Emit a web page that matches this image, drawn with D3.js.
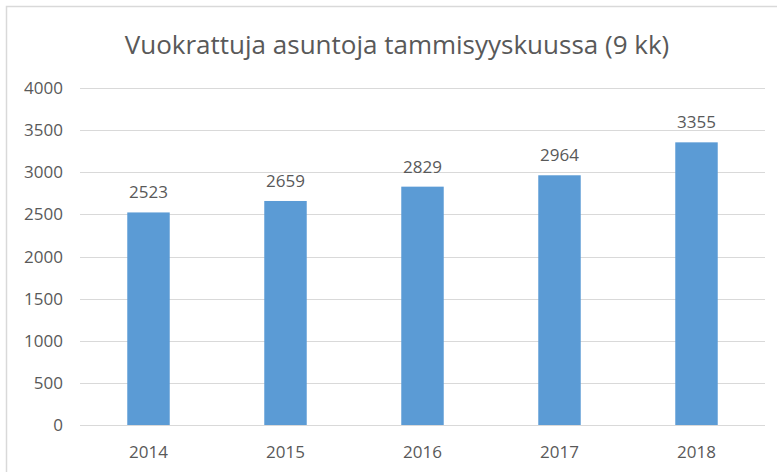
<!DOCTYPE html>
<html>
<head>
<meta charset="utf-8">
<script src="https://cdn.jsdelivr.net/npm/d3@7"></script>
<style>
  body { margin: 0; background: #fff; }
  text { font-family: "Open Sans", sans-serif; fill: #595959; }
</style>
</head>
<body>
<div id="chart"></div>
<script>
// data
var years = ["2014", "2015", "2016", "2017", "2018"];
var values = [2523, 2659, 2829, 2964, 3355];
var yTicks = [0, 500, 1000, 1500, 2000, 2500, 3000, 3500, 4000];
var title = "Vuokrattuja asuntoja tammisyyskuussa (9 kk)";

var width = 777, height = 472;
var svg = d3.select("#chart").append("svg")
    .attr("width", width)
    .attr("height", height);

// chart frame (runs off the right and bottom edge)
svg.append("rect")
    .attr("x", 6.5).attr("y", 6.5)
    .attr("width", 800).attr("height", 500)
    .attr("fill", "#fff")
    .attr("stroke", "#d9d9d9")
    .attr("stroke-width", 1.5);

var x = d3.scaleBand()
    .domain(years)
    .range([80, 765])
    .paddingInner(0.69)
    .paddingOuter(0.345);

var y = d3.scaleLinear()
    .domain([0, 4000])
    .range([425, 88]);

// gridlines
svg.selectAll(".grid")
    .data(yTicks)
    .enter().append("line")
    .attr("x1", 80).attr("x2", 765)
    .attr("y1", function(d) { return Math.round(y(d)) + 0.5; })
    .attr("y2", function(d) { return Math.round(y(d)) + 0.5; })
    .attr("stroke", "#d9d9d9")
    .attr("stroke-width", 1);

// y labels
svg.selectAll(".ylab")
    .data(yTicks)
    .enter().append("text")
    .attr("x", 63)
    .attr("y", function(d) { return y(d) + 6; })
    .attr("text-anchor", "end")
    .attr("font-size", 17)
    .text(function(d) { return d; });

// bars
svg.selectAll(".bar")
    .data(values)
    .enter().append("rect")
    .attr("x", function(d, i) { return x(years[i]); })
    .attr("width", x.bandwidth())
    .attr("y", function(d) { return y(d); })
    .attr("height", function(d) { return y(0) - y(d); })
    .attr("fill", "#5b9bd5");

// value labels
svg.selectAll(".vlab")
    .data(values)
    .enter().append("text")
    .attr("x", function(d, i) { return x(years[i]) + x.bandwidth() / 2; })
    .attr("y", function(d) { return y(d) - 14; })
    .attr("text-anchor", "middle")
    .attr("font-size", 17)
    .text(function(d) { return d; });

// x labels
svg.selectAll(".xlab")
    .data(years)
    .enter().append("text")
    .attr("x", function(d) { return x(d) + x.bandwidth() / 2; })
    .attr("y", 458)
    .attr("text-anchor", "middle")
    .attr("font-size", 17)
    .text(function(d) { return d; });

// title
svg.append("text")
    .attr("x", 397)
    .attr("y", 54)
    .attr("text-anchor", "middle")
    .attr("font-size", 26)
    .text(title);
</script>
</body>
</html>
